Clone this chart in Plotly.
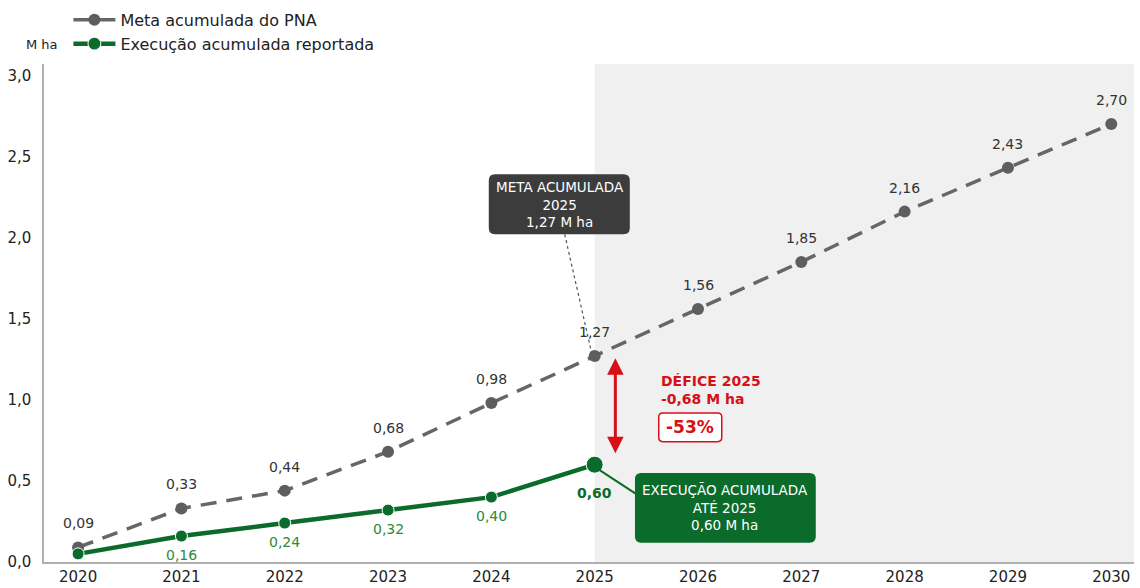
import plotly.graph_objects as go

# Accumulated restoration area (million ha)
years = [2020, 2021, 2022, 2023, 2024, 2025, 2026, 2027, 2028, 2029, 2030]
meta_acumulada = [0.09, 0.33, 0.44, 0.68, 0.98, 1.27, 1.56, 1.85, 2.16, 2.43, 2.70]
exec_years = [2020, 2021, 2022, 2023, 2024, 2025]
execucao_acumulada = [0.05, 0.16, 0.24, 0.32, 0.40, 0.60]
y_ticks = [0.0, 0.5, 1.0, 1.5, 2.0, 2.5, 3.0]

# 2025 gap as reported
defice_2025_txt = "-0,68"
defice_2025_pct = "-53%"

FONT = "DejaVu Sans"
GREY_LINE = "#666666"
GREY_MARK = "#5e5e5e"
GREEN = "#0b6b2b"
GREEN_TXT = "#2b8a3c"
RED = "#d70f16"
SHADE = "#eff0ef"
BOX_DARK = "#3c3c3c"


def fmt(v, nd=2):
    return f"{v:.{nd}f}".replace(".", ",")


exec_sizes = [12] * (len(exec_years) - 1) + [17]
meta_2025 = meta_acumulada[years.index(2025)]
exec_2025 = execucao_acumulada[-1]

fig = go.Figure()

fig.add_trace(go.Scatter(
    x=years, y=meta_acumulada, name="Meta acumulada do PNA",
    mode="lines+markers",
    line=dict(color=GREY_LINE, width=3.5, dash="16px,10px"),
    marker=dict(color=GREY_MARK, size=12, opacity=1),
    cliponaxis=False,
))

fig.add_trace(go.Scatter(
    x=exec_years, y=execucao_acumulada, name="Execução acumulada reportada",
    mode="lines+markers",
    line=dict(color=GREEN, width=4.5),
    marker=dict(color=GREEN, size=exec_sizes, opacity=1),
    cliponaxis=False,
))


def rounded_box(x0, x1, y0, y1, rx=0.06, ry=0.04):
    return (f"M {x0+rx},{y0} L {x1-rx},{y0} Q {x1},{y0} {x1},{y0+ry} "
            f"L {x1},{y1-ry} Q {x1},{y1} {x1-rx},{y1} L {x0+rx},{y1} "
            f"Q {x0},{y1} {x0},{y1-ry} L {x0},{y0+ry} Q {x0},{y0} {x0+rx},{y0} Z")


shapes = [
    # projection period shading
    dict(type="rect", xref="x", yref="paper", x0=2025, x1=2030.3, y0=0, y1=1,
         fillcolor=SHADE, line=dict(width=0), layer="below"),
    # connector to the 2025 target point
    dict(type="line", xref="x", yref="y", x0=2024.71, y0=2.02, x1=2024.97, y1=1.29,
         line=dict(color="#555555", width=1.2, dash="dot")),
    # connector to the 2025 execution point
    dict(type="line", xref="x", yref="y", x0=2025.04, y0=0.57, x1=2025.4, y1=0.42,
         line=dict(color=GREEN, width=2)),
    # annotation boxes
    dict(type="path", xref="x", yref="y", path=rounded_box(2023.975, 2025.34, 2.02, 2.39),
         fillcolor=BOX_DARK, line=dict(width=0)),
    dict(type="path", xref="x", yref="y", path=rounded_box(2025.39, 2027.14, 0.118, 0.548),
         fillcolor=GREEN, line=dict(width=0)),
    dict(type="path", xref="x", yref="y", path=rounded_box(2025.62, 2026.23, 0.742, 0.918, 0.04, 0.025),
         fillcolor="white", line=dict(color=RED, width=1.5)),
]

annotations = []
# value labels above the target points
for x, v in zip(years, meta_acumulada):
    annotations.append(dict(x=x, y=v, xref="x", yref="y", text=fmt(v), showarrow=False,
                            yshift=24, font=dict(family=FONT, size=14, color="#333333")))
# value labels below the execution points (first point unlabelled)
for i, (x, v) in enumerate(zip(exec_years, execucao_acumulada)):
    if i == 0:
        continue
    last = i == len(exec_years) - 1
    annotations.append(dict(x=x, y=v, xref="x", yref="y",
                            text=f"<b>{fmt(v)}</b>" if last else fmt(v), showarrow=False,
                            yshift=-28 if last else -19,
                            font=dict(family=FONT, size=14, color=GREEN if last else GREEN_TXT)))

annotations += [
    dict(xref="paper", yref="paper", x=0, y=1, xanchor="right", yanchor="middle",
         xshift=16, yshift=20, text="M ha", showarrow=False,
         font=dict(family=FONT, size=13, color="#222222")),
    dict(x=2024.66, y=2.205, xref="x", yref="y", showarrow=False,
         text=f"META ACUMULADA<br>2025<br>{fmt(meta_2025)} M ha",
         font=dict(family=FONT, size=13.5, color="white")),
    dict(x=2026.265, y=0.333, xref="x", yref="y", showarrow=False,
         text=f"EXECUÇÃO ACUMULADA<br>ATÉ 2025<br>{fmt(exec_2025)} M ha",
         font=dict(family=FONT, size=13.5, color="white")),
    # double-headed gap arrow
    dict(x=2025.2, y=exec_2025 + 0.07, ax=2025.2, ay=meta_2025 - 0.005,
         xref="x", yref="y", axref="x", ayref="y", text="", showarrow=True,
         arrowhead=2, startarrowhead=2, arrowside="end+start",
         arrowsize=1.1, startarrowsize=1.1, arrowwidth=3, arrowcolor=RED),
    dict(x=2025.62, y=1.06, xref="x", yref="y", xanchor="left", showarrow=False, align="left",
         text=f"<b>DÉFICE 2025<br>{defice_2025_txt} M ha</b>",
         font=dict(family=FONT, size=14, color=RED)),
    dict(x=2025.925, y=0.83, xref="x", yref="y", showarrow=False,
         text=f"<b>{defice_2025_pct}</b>",
         font=dict(family=FONT, size=17, color=RED)),
]

fig.update_layout(
    width=1140, height=588,
    margin=dict(l=44, r=6, t=64, b=26, autoexpand=False),
    paper_bgcolor="white", plot_bgcolor="white",
    font=dict(family=FONT, color="#222222"),
    showlegend=True,
    legend=dict(xref="container", yref="container", x=0.06, y=0.995,
                xanchor="left", yanchor="top", orientation="v",
                font=dict(family=FONT, size=16, color="#222222"),
                bgcolor="rgba(0,0,0,0)", tracegroupgap=0, itemwidth=42),
    shapes=shapes,
    annotations=annotations,
    xaxis=dict(range=[2019.67, 2030.22], tickvals=years, ticktext=[str(y) for y in years],
               showgrid=False, zeroline=False, showline=True, linecolor="#b0b0b0", linewidth=1.5,
               ticks="", tickfont=dict(family=FONT, size=15, color="#222222")),
    yaxis=dict(range=[0, 3.07], tickvals=y_ticks, ticktext=[fmt(v, 1) for v in y_ticks],
               showgrid=False, zeroline=False, showline=True, linecolor="#b0b0b0", linewidth=1.5,
               ticks="", ticklabelstandoff=8, tickfont=dict(family=FONT, size=15, color="#222222")),
)

fig.write_html("out.html")
